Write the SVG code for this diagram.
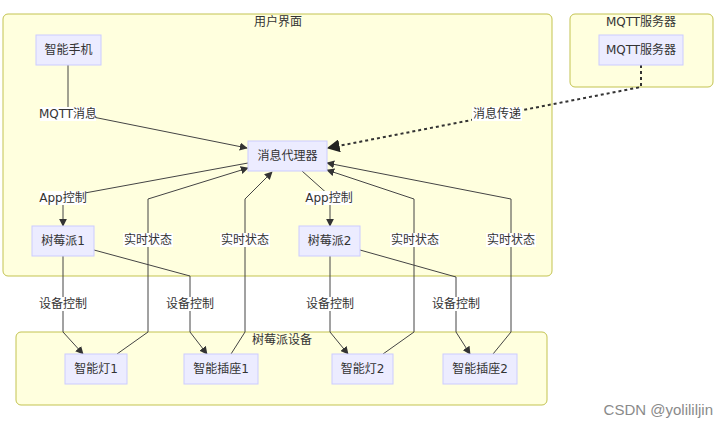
<svg xmlns="http://www.w3.org/2000/svg" width="728" height="427" viewBox="0 0 728 427">
<style>
text{font-family:"DejaVu Sans","Noto Sans CJK SC",sans-serif;font-size:12px;fill:#333;text-anchor:middle}
.cluster rect{fill:#ffffde;stroke:#c3c350;stroke-width:1}
.node rect{fill:#ececff;stroke:#ccccff;stroke-width:1}
.edge{fill:none;stroke:#444;stroke-width:1}
.dot{fill:none;stroke:#333;stroke-width:2;stroke-dasharray:3 3}
.lbl{fill:#fff}
.wm{font-family:"Liberation Sans",Arial,sans-serif;font-size:15px;fill:#8a8a8a;text-anchor:end}
</style>
<defs>
<marker id="arr" viewBox="0 0 10 10" refX="9" refY="5" markerWidth="8" markerHeight="8" markerUnits="userSpaceOnUse" orient="auto"><path d="M0,0 L10,5 L0,10 z" fill="#333"/></marker>
<marker id="arrBig" viewBox="0 0 10 10" refX="9" refY="5" markerWidth="13" markerHeight="13" markerUnits="userSpaceOnUse" orient="auto"><path d="M0,0 L10,5 L0,10 z" fill="#222"/></marker>
</defs>
<rect width="728" height="427" fill="#fff"/>
<g id="cluster-ui" class="cluster"><rect x="3" y="14" width="549" height="262" rx="5"/><text x="278" y="26">用户界面</text></g>
<g id="cluster-mqtt" class="cluster"><rect x="570" y="14" width="143" height="73" rx="5"/><text x="641" y="26">MQTT服务器</text></g>
<g id="cluster-pi" class="cluster"><rect x="16" y="332" width="531" height="73" rx="5"/><text x="282" y="344">树莓派设备</text></g>
<g id="edges">
<path class="edge" d="M68,65 L68,112 L247,148" marker-end="url(#arr)"/>
<path class="dot" d="M641,65 L641,87 L328,148" marker-end="url(#arrBig)"/>
<path class="edge" d="M248,163 L63,197 L63,226" marker-end="url(#arr)"/>
<path class="edge" d="M302,171 L330,196 L330,226" marker-end="url(#arr)"/>
<path class="edge" d="M63,256 L63,332 L83,354" marker-end="url(#arr)"/>
<path class="edge" d="M94,250 L190,276 L190,332 L207,354" marker-end="url(#arr)"/>
<path class="edge" d="M330,256 L330,332 L348,354" marker-end="url(#arr)"/>
<path class="edge" d="M360,250 L456,277 L456,332 L470,354" marker-end="url(#arr)"/>
<path class="edge" d="M117,354 L148,332 L148,199 L248,168" marker-end="url(#arr)"/>
<path class="edge" d="M231,354 L245,332 L245,199 L272,172" marker-end="url(#arr)"/>
<path class="edge" d="M383,354 L414,332 L414,199 L327,170" marker-end="url(#arr)"/>
<path class="edge" d="M493,354 L511,332 L511,199 L327,163" marker-end="url(#arr)"/>
<g id="edge-labels">
<rect class="lbl" x="40" y="107" width="56" height="14"/><text x="68" y="118">MQTT消息</text>
<rect class="lbl" x="472" y="107" width="50" height="14"/><text x="497" y="118">消息传递</text>
<rect class="lbl" x="40" y="191" width="46" height="14"/><text x="63" y="202">App控制</text>
<rect class="lbl" x="306" y="191" width="46" height="14"/><text x="329" y="202">App控制</text>
<rect class="lbl" x="123" y="233" width="50" height="14"/><text x="148" y="244">实时状态</text>
<rect class="lbl" x="220" y="233" width="50" height="14"/><text x="245" y="244">实时状态</text>
<rect class="lbl" x="390" y="233" width="50" height="14"/><text x="415" y="244">实时状态</text>
<rect class="lbl" x="486" y="233" width="50" height="14"/><text x="511" y="244">实时状态</text>
<rect class="lbl" x="38" y="297" width="50" height="14"/><text x="63" y="308">设备控制</text>
<rect class="lbl" x="165" y="297" width="50" height="14"/><text x="190" y="308">设备控制</text>
<rect class="lbl" x="305" y="297" width="50" height="14"/><text x="330" y="308">设备控制</text>
<rect class="lbl" x="431" y="297" width="50" height="14"/><text x="456" y="308">设备控制</text>
</g>
</g>
<g id="n-phone" class="node"><rect x="36" y="35" width="65" height="30"/><text x="68.5" y="54">智能手机</text></g>
<g id="n-mqtt" class="node"><rect x="599" y="35" width="84" height="30"/><text x="641" y="54">MQTT服务器</text></g>
<g id="n-broker" class="node"><rect x="248" y="141" width="79" height="30"/><text x="287.5" y="160">消息代理器</text></g>
<g id="n-pi1" class="node"><rect x="32" y="226" width="62" height="30"/><text x="63" y="245">树莓派1</text></g>
<g id="n-pi2" class="node"><rect x="299" y="226" width="61" height="30"/><text x="329.5" y="245">树莓派2</text></g>
<g id="n-lamp1" class="node"><rect x="65" y="354" width="62" height="30"/><text x="96" y="373">智能灯1</text></g>
<g id="n-socket1" class="node"><rect x="184" y="354" width="74" height="30"/><text x="221" y="373">智能插座1</text></g>
<g id="n-lamp2" class="node"><rect x="332" y="354" width="61" height="30"/><text x="362.5" y="373">智能灯2</text></g>
<g id="n-socket2" class="node"><rect x="443" y="354" width="74" height="30"/><text x="480" y="373">智能插座2</text></g>
<text class="wm" x="713" y="415">CSDN @yolililjin</text>
</svg>
